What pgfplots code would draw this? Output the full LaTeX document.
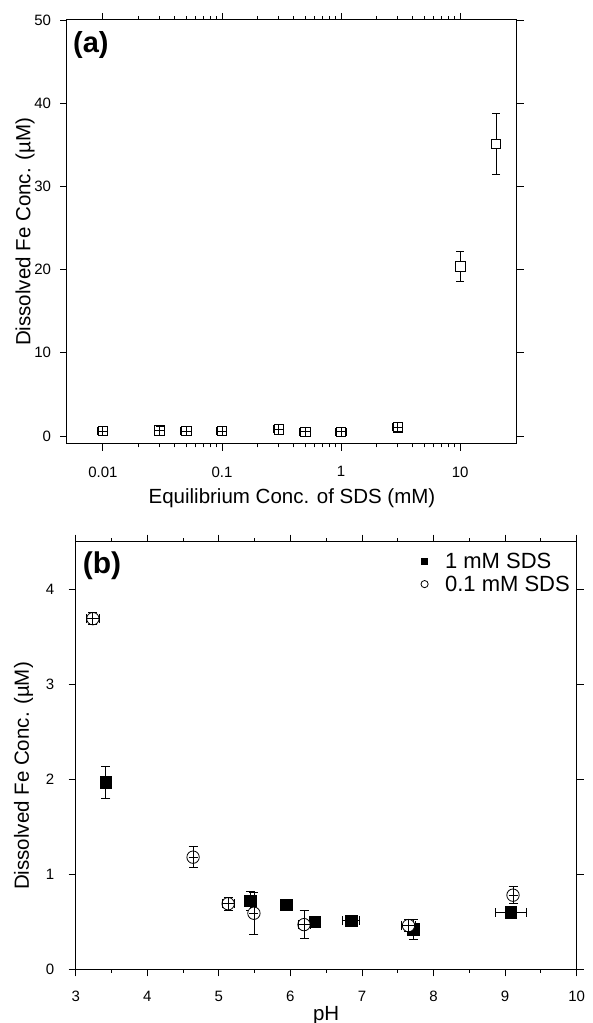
\documentclass[border=0pt]{standalone}
\usepackage{fontspec}
\setmainfont{Liberation Sans}
\usepackage{pgfplots}
\pgfplotsset{compat=1.18}
\usepackage{pgfplotstable}

% Panel (a): Dissolved Fe vs equilibrium SDS concentration
\pgfplotstableread{
x     y     ey    exr
0.01  0.60  0.55  0.10
0.03  0.65  0.55  0.10
0.05  0.60  0.55  0.10
0.1   0.60  0.55  0.10
0.3   0.80  0.55  0.10
0.5   0.50  0.55  0.10
1     0.50  0.55  0.10
3     1.05  0.55  0.10
}\dataAsmall
\pgfplotstableread{
x     y     ey    exr
10    20.4  1.8   0.0
20    35.1  3.7   0.0
}\dataAlarge

% Panel (b): Dissolved Fe vs pH
\pgfplotstableread{
x     y     ex    ey
3.42  1.97  0.00  0.17
5.44  0.72  0.00  0.10
5.94  0.68  0.00  0.05
6.34  0.50  0.00  0.06
6.85  0.51  0.12  0.05
7.72  0.42  0.00  0.11
9.08  0.60  0.22  0.06
}\dataBone
\pgfplotstableread{
x     y     ex    ey
3.24  3.69  0.085 0.065
4.64  1.18  0.00  0.11
5.13  0.69  0.085 0.065
5.49  0.59  0.00  0.22
6.19  0.47  0.085 0.15
7.65  0.46  0.10  0.065
9.11  0.78  0.00  0.09
}\dataBtwo

\pgfplotsset{
  every axis/.append style={
    scale only axis,
    clip marker paths=true,
    axis line style={line width=1pt},
    every tick/.style={black, line width=0.9pt},
    tick align=outside,
    major tick length=7pt,
    minor tick length=3.5pt,
    tick label style={font=\fontsize{15}{18}\selectfont},
    label style={font=\fontsize{20.5}{24}\selectfont},
    /pgf/number format/assume math mode=true,
  },
  errplot/.style={draw=none, mark=none,
    error bars/error bar style={draw=black, line width=0.8pt},
    error bars/error mark options={draw=black, rotate=90, mark size=#1, line width=0.8pt}},
}

\begin{document}
\begin{tikzpicture}
\useasboundingbox (0pt,0pt) rectangle (593pt,1023pt);

% ---------------- Panel (a)
\begin{axis}[
  at={(67pt,579pt)}, anchor=south west,
  width=450pt, height=424pt,
  xmode=log, xmin=0.005, xmax=30,
  ymin=-0.96, ymax=50,
  xtick={0.01,0.1,1,10}, xticklabels={0.01,0.1,1,10},
  ytick={0,10,20,30,40,50},
  yminorticks=false,
  xticklabel style={yshift=-12pt},
  yticklabel style={xshift=-5.5pt},
  xlabel={Equilibrium Conc. of SDS (mM)},
  ylabel={Dissolved Fe Conc.  (\textmu M)},
  xlabel style={at={(axis description cs:0.5,-0.14)}, anchor=base},
  ylabel style={at={(axis description cs:-0.093,0.5)}, anchor=center},
]
\addplot[forget plot, errplot=4pt,
  error bars/.cd, y dir=both, y explicit]
  table[x=x, y=y, y error=ey] {\dataAlarge};
\addplot[only marks, mark=square*, mark size=4.8pt,
  mark options={fill=white, draw=black, line width=0.8pt}]
  table[x=x, y=y] {\dataAlarge};
\addplot[only marks, mark=square*, mark size=4.8pt,
  mark options={fill=white, draw=black, line width=0.8pt}]
  table[x=x, y=y] {\dataAsmall};
\addplot[forget plot, errplot=4pt,
  error bars/.cd, y dir=both, y explicit]
  table[x=x, y=y, y error=ey] {\dataAsmall};
\addplot[forget plot, errplot=4pt,
  error bars/.cd, x dir=both, x explicit relative]
  table[x=x, y=y, x error=exr] {\dataAsmall};
\node[anchor=north west, inner sep=0pt, font=\fontsize{29}{34}\selectfont\bfseries]
  at ([xshift=6pt,yshift=-11pt]rel axis cs:0,1) {(a)};
\end{axis}

% ---------------- Panel (b)
\begin{axis}[
  at={(75.7pt,53.7pt)}, anchor=south west,
  width=501pt, height=427.6pt,
  xmin=3, xmax=10, ymin=0, ymax=4.5,
  xtick={3,4,...,10}, ytick={0,1,2,3,4},
  minor x tick num=1,
  xticklabel style={yshift=-11pt},
  yticklabel style={xshift=-11pt},
  xlabel={pH},
  ylabel={Dissolved Fe Conc.  (\textmu M)},
  xlabel style={at={(axis description cs:0.5,-0.1186)}, anchor=base},
  ylabel style={at={(axis description cs:-0.104,0.452)}, anchor=center},
  legend style={draw=none, fill=none, at={(axis description cs:0.686,0.978)},
    anchor=north west, font=\fontsize{22}{26}\selectfont,
    inner sep=0pt, row sep=3pt, nodes={inner sep=1.5pt}},
  legend cell align=left,
  legend image code/.code={%
    \path[draw=none] (-5pt,0pt) -- (19pt,0pt);
    \draw[#1] plot coordinates {(0pt,0pt)};},
]
\addplot[forget plot, errplot=4.5pt,
  error bars/.cd, y dir=both, y explicit, x dir=both, x explicit]
  table[x=x, y=y, x error=ex, y error=ey] {\dataBone};
\addplot[only marks, mark=square*, mark size=5.8pt,
  mark options={fill=black, draw=black, line width=0.6pt},
  legend image post style={mark size=3.2pt}]
  table[x=x, y=y] {\dataBone};
\addlegendentry{1 mM SDS}
\addplot[only marks, mark=*, mark size=6.2pt,
  mark options={fill=white, draw=black, line width=0.8pt},
  legend image post style={mark size=3.6pt}]
  table[x=x, y=y] {\dataBtwo};
\addlegendentry{0.1 mM SDS}
\addplot[forget plot, errplot=4.5pt,
  error bars/.cd, y dir=both, y explicit, x dir=both, x explicit]
  table[x=x, y=y, x error=ex, y error=ey] {\dataBtwo};
\node[anchor=north west, inner sep=0pt, font=\fontsize{30}{35}\selectfont\bfseries]
  at ([xshift=7pt,yshift=-10pt]rel axis cs:0,1) {(b)};
\end{axis}
\end{tikzpicture}
\end{document}
